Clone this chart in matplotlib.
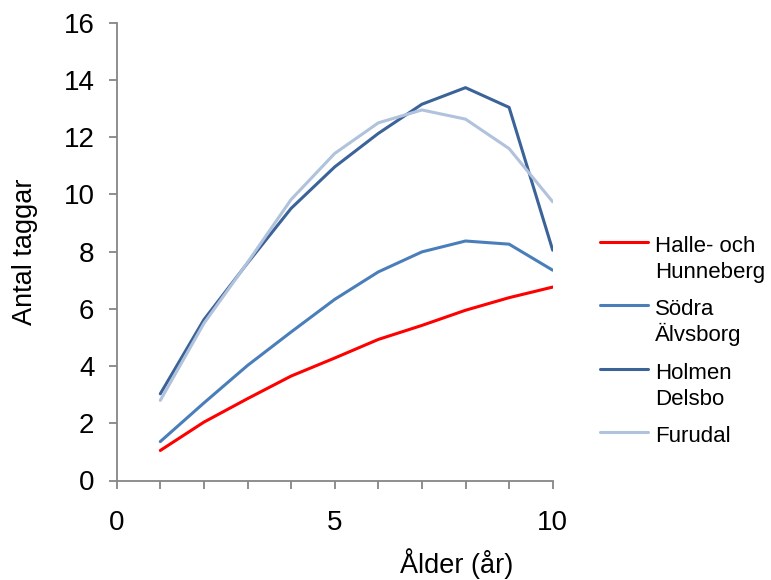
import matplotlib

matplotlib.use("Agg")
import matplotlib.pyplot as plt  # noqa: E402
from matplotlib.lines import Line2D  # noqa: E402
from matplotlib.ticker import MultipleLocator  # noqa: E402

plt.rcParams["font.family"] = ["Liberation Sans", "DejaVu Sans"]

# Ålder (år)
ages = [1, 2, 3, 4, 5, 6, 7, 8, 9, 10]

# Antal taggar per bestånd
halle_hunneberg = [1.05, 2.04, 2.86, 3.65, 4.28, 4.93, 5.42, 5.95, 6.39, 6.76]
sodra_alvsborg = [1.36, 2.71, 4.02, 5.19, 6.33, 7.29, 7.99, 8.37, 8.26, 7.35]
holmen_delsbo = [3.03, 5.62, 7.6, 9.51, 10.96, 12.13, 13.15, 13.73, 13.04, 8.05]
furudal = [2.8, 5.49, 7.62, 9.82, 11.43, 12.5, 12.95, 12.63, 11.6, 9.74]

series = [
    ("Halle- och\nHunneberg", halle_hunneberg, "#FF0000"),
    ("Södra\nÄlvsborg", sodra_alvsborg, "#4A7EBB"),
    ("Holmen\nDelsbo", holmen_delsbo, "#3B6398"),
    ("Furudal", furudal, "#B0C2DC"),
]

W, H = 771, 580
fig = plt.figure(figsize=(W / 100, H / 100), dpi=100)
ax = fig.add_axes([116.7 / W, 1 - 480.5 / H, (552.7 - 116.7) / W, (480.5 - 22.7) / H])

for label, values, color in series:
    ax.plot(ages, values, color=color, lw=2.2, solid_capstyle="round")

ax.set_xlim(0, 10)
ax.set_ylim(0, 16)
ax.xaxis.set_major_locator(MultipleLocator(5))
ax.xaxis.set_minor_locator(MultipleLocator(1))
ax.yaxis.set_major_locator(MultipleLocator(2))

for side in ("top", "right"):
    ax.spines[side].set_visible(False)
for side in ("left", "bottom"):
    ax.spines[side].set_color("#868686")
    ax.spines[side].set_linewidth(1.3)

ax.tick_params(axis="both", which="major", direction="out", length=6, width=1.3,
               color="#868686", labelsize=20, labelcolor="black")
ax.tick_params(axis="x", which="major", pad=15)
ax.tick_params(axis="y", which="major", pad=10)
ax.tick_params(axis="x", which="minor", direction="out", length=6, width=1.3,
               color="#868686")

ax.set_xlabel("Ålder (år)", fontsize=19.5)
ax.xaxis.set_label_coords(0.78, -0.148)
ax.set_ylabel("Antal taggar", fontsize=19.5)
ax.yaxis.set_label_coords(-0.18, 0.5)

# förklaring till höger om diagrammet
entry_y = [242, 305, 369, 432]
for (label, values, color), y in zip(series, entry_y):
    fig.add_artist(Line2D([600 / W, 648 / W], [1 - y / H, 1 - y / H],
                          color=color, lw=2.2, solid_capstyle="round"))
    for i, line in enumerate(label.split("\n")):
        fig.text(655 / W, 1 - (y + 9.7 + 26.5 * i) / H, line, fontsize=16,
                 va="baseline", ha="left")

fig.savefig("out.png", dpi=100)
